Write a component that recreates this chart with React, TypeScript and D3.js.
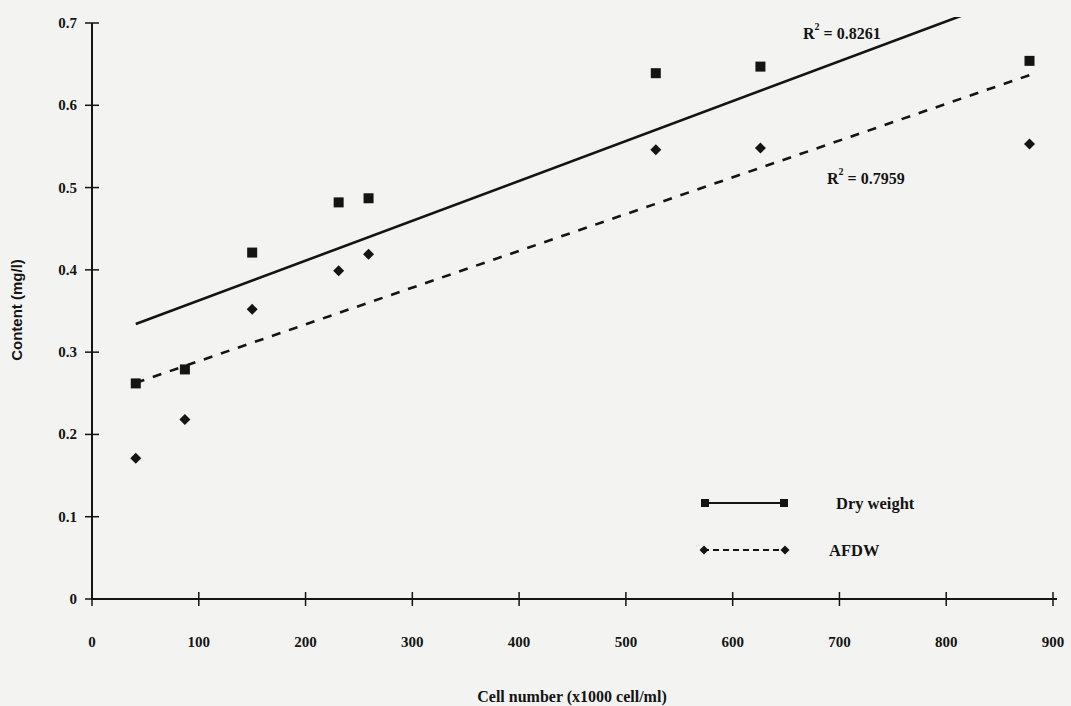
import { useEffect, useRef } from 'react';
import * as d3 from 'd3';

const WIDTH = 1071;
const HEIGHT = 706;
const MARGIN = { top: 23, right: 18, bottom: 107, left: 92 };

// cell number (x1000 cell/ml)
const cellNumber = [41, 87, 150, 231, 259, 528, 626, 878];
// content (mg/l)
const dryWeight = [0.262, 0.279, 0.421, 0.482, 0.487, 0.639, 0.647, 0.654];
const afdw = [0.171, 0.218, 0.352, 0.399, 0.419, 0.546, 0.548, 0.553];

const xTicks = [0, 100, 200, 300, 400, 500, 600, 700, 800, 900];
const yTicks = [0, 0.1, 0.2, 0.3, 0.4, 0.5, 0.6, 0.7];
const yTickLabels = ['0', '0.1', '0.2', '0.3', '0.4', '0.5', '0.6', '0.7'];

const r2Labels = ['0.8261', '0.7959'];
const seriesNames = ['Dry weight', 'AFDW'];

const INK = '#141414';
const SERIF = '"Liberation Serif", "Times New Roman", serif';
const SANS = '"Liberation Sans", Arial, sans-serif';

// least squares fit, like the spreadsheet trendline
const linearFit = (xs, ys) => {
    const mx = d3.mean(xs);
    const my = d3.mean(ys);
    const sxy = d3.sum(xs, (x, i) => (x - mx) * (ys[i] - my));
    const sxx = d3.sum(xs, (x) => (x - mx) * (x - mx));
    const slope = sxy / sxx;
    return { slope, intercept: my - slope * mx };
};

const Square = ({ x, y, s = 11 }) => (
    <rect x={x - s / 2} y={y - s / 2} width={s} height={s} fill={INK} />
);

const Diamond = ({ x, y, s = 6 }) => (
    <path d={`M${x},${y - s}L${x + s},${y}L${x},${y + s}L${x - s},${y}Z`} fill={INK} />
);

const R2 = ({ x, y, value }) => (
    <text x={x} y={y} fontFamily={SERIF} fontWeight="bold" fontSize={16} fill={INK}>
        R
        <tspan fontSize={10} dy={-9}>2</tspan>
        <tspan dy={9}>{` = ${value}`}</tspan>
    </text>
);

const App = () => {
    const xAxisRef = useRef(null);
    const yAxisRef = useRef(null);

    const boundsWidth = WIDTH - MARGIN.left - MARGIN.right;
    const boundsHeight = HEIGHT - MARGIN.top - MARGIN.bottom;

    const xScale = d3.scaleLinear().domain([0, 900]).range([MARGIN.left, MARGIN.left + 961]);
    const yScale = d3.scaleLinear().domain([0, 0.7]).range([MARGIN.top + 576, MARGIN.top]);

    useEffect(() => {
        // x axis: ticks crossing the line, labels well below
        const gx = d3.select(xAxisRef.current);
        gx.selectAll('*').remove();
        gx.append('line')
            .attr('x1', xScale(0)).attr('x2', xScale(900) + 4)
            .attr('y1', yScale(0)).attr('y2', yScale(0))
            .attr('stroke', INK).attr('stroke-width', 2);
        gx.selectAll('.tick')
            .data(xTicks)
            .join('line')
            .attr('x1', (d) => xScale(d)).attr('x2', (d) => xScale(d))
            .attr('y1', yScale(0) - 7).attr('y2', yScale(0) + 7)
            .attr('stroke', INK).attr('stroke-width', 1.5);
        gx.selectAll('text')
            .data(xTicks)
            .join('text')
            .attr('x', (d) => xScale(d))
            .attr('y', yScale(0) + 48)
            .attr('text-anchor', 'middle')
            .attr('font-family', SERIF)
            .attr('font-weight', 'bold')
            .attr('font-size', 15)
            .attr('fill', INK)
            .text((d) => d);

        // y axis
        const gy = d3.select(yAxisRef.current);
        gy.selectAll('*').remove();
        gy.append('line')
            .attr('x1', xScale(0)).attr('x2', xScale(0))
            .attr('y1', yScale(0.7)).attr('y2', yScale(0) + 1)
            .attr('stroke', INK).attr('stroke-width', 2);
        gy.selectAll('.tick')
            .data(yTicks)
            .join('line')
            .attr('x1', xScale(0) - 7).attr('x2', (d) => xScale(0) + (d === 0 ? 0 : 7))
            .attr('y1', (d) => yScale(d)).attr('y2', (d) => yScale(d))
            .attr('stroke', INK).attr('stroke-width', 1.5);
        gy.selectAll('text')
            .data(yTicks)
            .join('text')
            .attr('x', xScale(0) - 15)
            .attr('y', (d) => yScale(d) + 5)
            .attr('text-anchor', 'end')
            .attr('font-family', SERIF)
            .attr('font-weight', 'bold')
            .attr('font-size', 15)
            .attr('fill', INK)
            .text((d, i) => yTickLabels[i]);
    }, [xScale, yScale]);

    const dryFit = linearFit(cellNumber, dryWeight);
    const afdwFit = linearFit(cellNumber, afdw);
    const [xMin, xMax] = d3.extent(cellNumber);

    const trend = (fit) =>
        d3.line()
            .x((d) => xScale(d))
            .y((d) => yScale(fit.intercept + fit.slope * d))([xMin, xMax]);

    return (
        <svg
            width={WIDTH}
            height={HEIGHT}
            style={{ position: 'absolute', left: 0, top: 0, background: '#f3f3f2' }}
        >
            <defs>
                <clipPath id="plot-clip">
                    <rect x={MARGIN.left} y={MARGIN.top - 6} width={boundsWidth} height={boundsHeight + 6} />
                </clipPath>
            </defs>

            <g ref={yAxisRef} />
            <g ref={xAxisRef} />

            <g clipPath="url(#plot-clip)">
                <path d={trend(dryFit)} stroke={INK} strokeWidth={2.6} fill="none" />
                <path d={trend(afdwFit)} stroke={INK} strokeWidth={2.6} strokeDasharray="9,9" fill="none" />
            </g>

            {cellNumber.map((c, i) => (
                <Square key={'s' + i} x={xScale(c)} y={yScale(dryWeight[i])} s={10} />
            ))}
            {cellNumber.map((c, i) => (
                <Diamond key={'d' + i} x={xScale(c)} y={yScale(afdw[i])} s={5.5} />
            ))}

            <R2 x={803} y={39} value={r2Labels[0]} />
            <R2 x={827} y={184} value={r2Labels[1]} />

            {/* legend */}
            <g>
                <line x1={703} x2={785} y1={503} y2={503} stroke={INK} strokeWidth={2.2} />
                <Square x={705} y={503} s={8} />
                <Square x={784} y={503} s={8} />
                <text x={836} y={509} fontFamily={SERIF} fontWeight="bold" fontSize={16.5} fill={INK}>
                    {seriesNames[0]}
                </text>
                <line x1={703} x2={785} y1={550} y2={550} stroke={INK} strokeWidth={2.2} strokeDasharray="6,4" />
                <Diamond x={704} y={550} s={4.5} />
                <Diamond x={785} y={550} s={4.5} />
                <text x={829} y={556} fontFamily={SERIF} fontWeight="bold" fontSize={16.5} fill={INK}>
                    {seriesNames[1]}
                </text>
            </g>

            <text
                transform={`translate(22,310) rotate(-90)`}
                textAnchor="middle"
                fontFamily={SANS}
                fontWeight="bold"
                fontSize={15}
                fill={INK}
            >
                Content (mg/l)
            </text>
            <text
                x={572}
                y={702}
                textAnchor="middle"
                fontFamily={SERIF}
                fontWeight="bold"
                fontSize={16}
                fill={INK}
            >
                Cell number (x1000 cell/ml)
            </text>
        </svg>
    );
};

export default App;
